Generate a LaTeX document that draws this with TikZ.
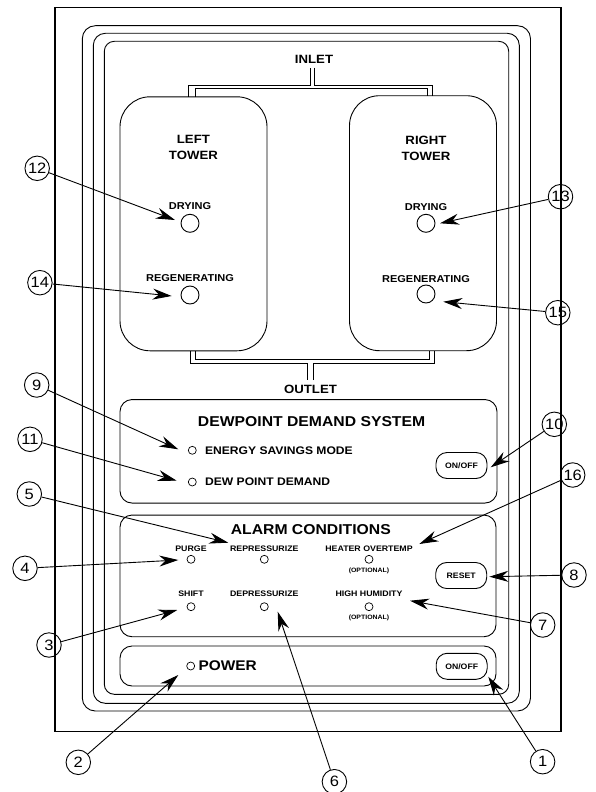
\documentclass[tikz,border=0pt]{standalone}
\usepackage{fontspec}
\setmainfont[FakeStretch=1.1]{Liberation Sans}
\usetikzlibrary{arrows.meta,positioning}
\newcommand{\fsz}[1]{\fontsize{#1}{16}\selectfont}

\begin{document}
\begin{tikzpicture}[x=1pt, y=-1pt, >={Stealth[length=19pt,width=11pt]}, line width=0.9pt,
    box/.style={draw, rounded corners=12pt},
    lamp/.style={draw, circle, inner sep=0pt, minimum size=18pt},
    led/.style={draw, circle, inner sep=0pt, minimum size=8pt, line width=0.7pt},
    btn/.style={draw, rounded corners=11pt, minimum width=51pt, minimum height=26pt, font=\bfseries\fsz{7.9}},
    lbl/.style={inner sep=0pt, font=\bfseries\fsz{8}},
    num/.style={draw, circle, inner sep=0pt, minimum size=24.5pt, font=\fsz{15}}]
    \useasboundingbox (0,0) rectangle (595,792);
    \draw[line width=1.1pt] (55,7.3) rectangle (561,731.7);
    \draw[rounded corners=13pt] (82.3,25.7) rectangle (530.5,711);
    \draw[rounded corners=12pt] (93.3,33.3) rectangle (519.3,703.3);
    \draw[rounded corners=10pt] (104.3,41.3) rectangle (508.7,694.3);

    % towers and piping
    \node[box, rounded corners=30pt, minimum width=147pt, minimum height=254pt] (ltwr) at (193.5,223.8) {};
    \node[box, rounded corners=30pt, minimum width=147pt, minimum height=255pt] (rtwr) at (423,223.2) {};
    \draw (188,96.7) |- (310,85) -- (310,67.7);
    \draw (314,67.7) -- (314,85) -| (432,95.7);
    \draw (195,96.7) |- (427.3,88.3) -- (427.3,95.7);
    \draw (195,351) |- (429.4,359.3) -- (429.4,350.7);
    \draw (190,351) |- (307.8,363.3) -- (307.8,380);
    \draw (313.5,380) -- (313.5,363.3) -| (434,350.7);
    \node[lbl, font=\bfseries\fsz{12}] (inlet) at (314,59) {INLET};
    \node[lbl, font=\bfseries\fsz{12}] (outlet) at (310.5,389.3) {OUTLET};
    \node[lbl, font=\bfseries\fsz{12}, align=center] (ltxt) at (193.4,147) {LEFT\\TOWER};
    \node[lbl, font=\bfseries\fsz{12}, align=center] (rtxt) at (426,148.3) {RIGHT\\TOWER};
    \node[lamp] (ldry) at (190,223.3) {};
    \node[lamp] (lreg) at (190,295) {};
    \node[lamp] (rdry) at (426,223.3) {};
    \node[lamp] (rreg) at (426,294) {};
    \node[lbl, font=\bfseries\fsz{10}] at (190,206) {DRYING};
    \node[lbl, font=\bfseries\fsz{10}] at (190,277.7) {REGENERATING};
    \node[lbl, font=\bfseries\fsz{10}] at (426,207.3) {DRYING};
    \node[lbl, font=\bfseries\fsz{10}] at (426,279.3) {REGENERATING};

    % dewpoint demand
    \node[box, minimum width=377pt, minimum height=103.5pt] (dds) at (308.5,451.3) {};
    \node[lbl, font=\bfseries\fsz{14.3}] at (311.6,421.7) {DEWPOINT DEMAND SYSTEM};
    \node[led] (esm) at (192.3,450.3) {};
    \node[led] (dpd) at (192.3,482) {};
    \node[lbl, font=\bfseries\fsz{11}, right=8pt of esm] {ENERGY SAVINGS MODE};
    \node[lbl, font=\bfseries\fsz{11}, right=8pt of dpd] {DEW POINT DEMAND};
    \node[btn] (ddsbtn) at (461.5,465.5) {ON/OFF};

    % alarm conditions
    \node[box, minimum width=376pt, minimum height=121.7pt] (alarm) at (308,575.9) {};
    \node[lbl, font=\bfseries\fsz{14.3}] at (310.8,530) {ALARM CONDITIONS};
    \node[led] (purge) at (191,559.3) {};
    \node[led] (repr) at (264.3,559.3) {};
    \node[led] (heat) at (369,559.3) {};
    \node[led] (shift) at (191,606.7) {};
    \node[led] (depr) at (264.3,606.7) {};
    \node[led] (humid) at (369,606.7) {};
    \node[lbl] at (191,549) {PURGE};
    \node[lbl] at (264.3,549) {REPRESSURIZE};
    \node[lbl] at (369,549) {HEATER OVERTEMP};
    \node[lbl] at (191,593.3) {SHIFT};
    \node[lbl] at (264.3,593.3) {DEPRESSURIZE};
    \node[lbl] at (369,593.3) {HIGH HUMIDITY};
    \node[lbl, font=\bfseries\fsz{6.3}] at (369,570.7) {(OPTIONAL)};
    \node[lbl, font=\bfseries\fsz{6.3}] at (369,618.3) {(OPTIONAL)};
    \node[btn] (reset) at (461.2,575.5) {RESET};

    % power
    \node[box, minimum width=376pt, minimum height=40pt] (power) at (308,666) {};
    \node[led] (pwr) at (190.7,666) {};
    \node[lbl, font=\bfseries\fsz{14}, right=3pt of pwr] {POWER};
    \node[btn] (pwrbtn) at (461.7,666.3) {ON/OFF};

    % callouts
    \node[num] (n1) at (542.6,761.7) {1};   \coordinate (t1) at (488.3,676.7);  \draw[->] (n1) -- (t1);
    \node[num] (n2) at (78.3,762.3) {2};    \coordinate (t2) at (178.3,675);    \draw[->] (n2) -- (t2);
    \node[num] (n3) at (49,645) {3};        \coordinate (t3) at (177.3,610);    \draw[->] (n3) -- (t3);
    \node[num] (n4) at (25,568.3) {4};      \coordinate (t4) at (178.3,560);    \draw[->] (n4) -- (t4);
    \node[num] (n5) at (29.3,494) {5};      \coordinate (t5) at (228.3,542.7);  \draw[->] (n5) -- (t5);
    \node[num] (n6) at (334.4,781.7) {6};   \coordinate (t6) at (277.7,611.7);  \draw[->] (n6) -- (t6);
    \node[num] (n7) at (542.7,625) {7};     \coordinate (t7) at (410,600.7);    \draw[->] (n7) -- (t7);
    \node[num] (n8) at (574,575) {8};       \coordinate (t8) at (489.3,576.7);  \draw[->] (n8) -- (t8);
    \node[num] (n9) at (36.7,385) {9};      \coordinate (t9) at (178.3,449.3);  \draw[->] (n9) -- (t9);
    \node[num] (n10) at (554.3,424.3) {10}; \coordinate (t10) at (490.7,467.3); \draw[->] (n10) -- (t10);
    \node[num] (n11) at (30,439.3) {11};    \coordinate (t11) at (176.7,480.7); \draw[->] (n11) -- (t11);
    \node[num] (n12) at (37.2,168.3) {12};  \coordinate (t12) at (175,220);     \draw[->] (n12) -- (t12);
    \node[num] (n13) at (560.5,196.7) {13}; \coordinate (t13) at (440,223.3);   \draw[->] (n13) -- (t13);
    \node[num] (n14) at (39.9,282.7) {14};  \coordinate (t14) at (171.7,296);   \draw[->] (n14) -- (t14);
    \node[num] (n15) at (557.8,312.7) {15}; \coordinate (t15) at (443.3,301.7); \draw[->] (n15) -- (t15);
    \node[num] (n16) at (572.7,475) {16};   \coordinate (t16) at (419.3,544);   \draw[->] (n16) -- (t16);
\end{tikzpicture}
\end{document}
